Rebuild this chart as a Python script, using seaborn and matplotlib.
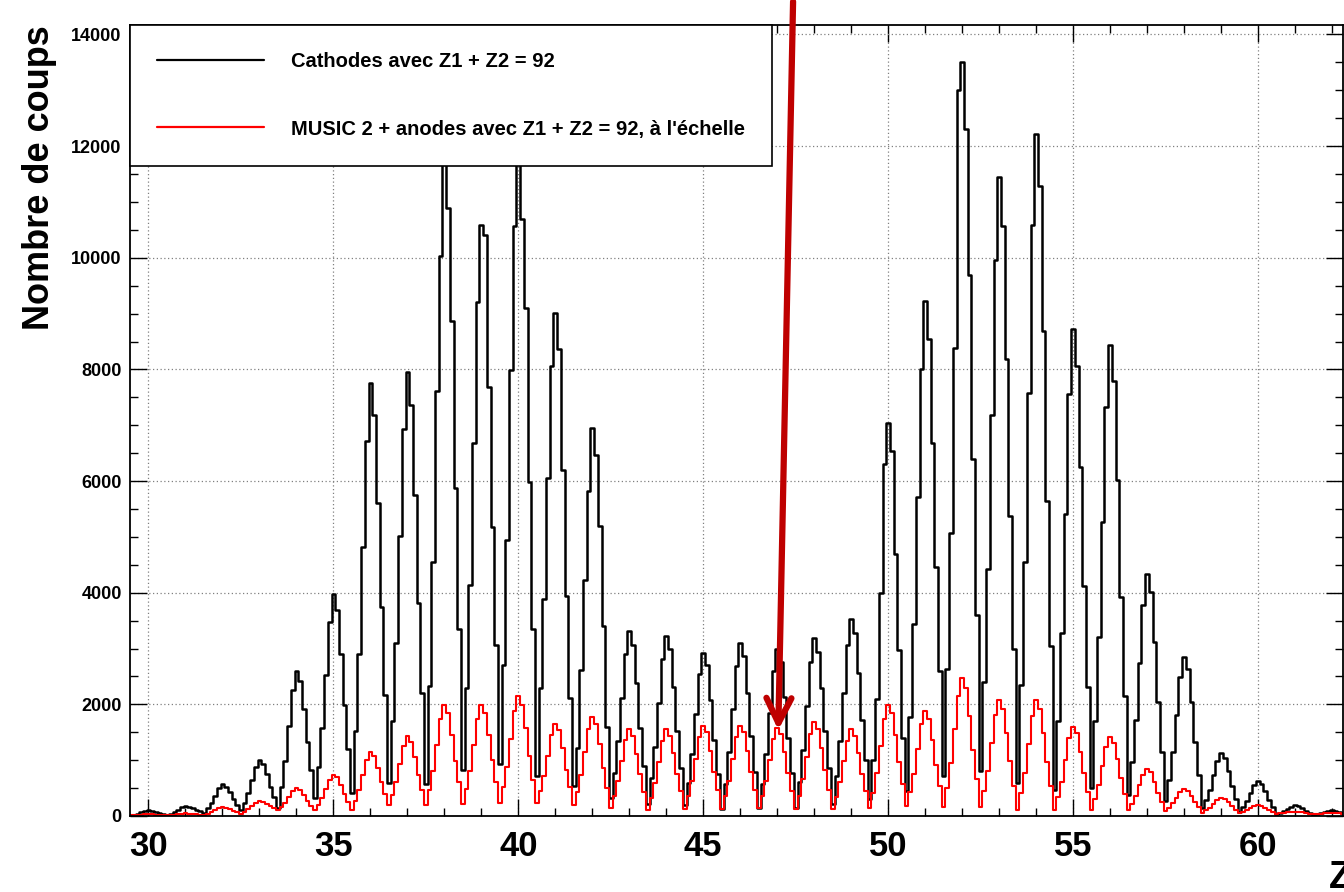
import numpy as np
import pandas as pd
import matplotlib
matplotlib.use("Agg")
import matplotlib.pyplot as plt
import seaborn as sns
from matplotlib.lines import Line2D
from matplotlib.ticker import MultipleLocator

# --- data: one row of 10 bins (width 0.1) per charge Z,
# bin centres going from Z-0.5 to Z+0.4
z_values = list(range(30, 63))

cathodes_rows = [
    [10, 24, 41, 64, 87, 100, 94, 76, 55, 38],                      # 30
    [20, 43, 73, 113, 153, 175, 166, 140, 111, 85],                 # 31
    [60, 136, 232, 363, 494, 565, 528, 426, 305, 202],              # 32
    [100, 235, 406, 640, 874, 1000, 932, 745, 524, 337],            # 33
    [150, 518, 983, 1620, 2257, 2600, 2418, 1919, 1329, 829],       # 34
    [330, 878, 1571, 2520, 3469, 3980, 3695, 2911, 1984, 1199],     # 35
    [415, 1515, 2909, 4816, 6723, 7750, 7177, 5602, 3740, 2165],    # 36
    [590, 1696, 3096, 5012, 6928, 7960, 7369, 5743, 3822, 2196],    # 37
    [570, 2330, 4558, 7608, 10030, 12300, 10900, 8859, 5877, 3353], # 38
    [830, 2293, 4145, 6680, 9215, 10580, 10400, 7688, 5182, 3061],  # 39
    [940, 2704, 4938, 7996, 10570, 12700, 10690, 9106, 5991, 3356], # 40
    [720, 2300, 3890, 6050, 8070, 9010, 8370, 6200, 3940, 2110],    # 41
    [530, 1210, 2620, 4220, 5820, 6950, 6460, 5200, 3410, 1600],    # 42
    [315, 766, 1337, 2118, 2899, 3320, 3072, 2390, 1584, 902],      # 43
    [220, 672, 1243, 2026, 2809, 3230, 2987, 2318, 1528, 859],      # 44
    [190, 600, 1118, 1828, 2538, 2920, 2697, 2083, 1358, 744],      # 45
    [130, 576, 1140, 1912, 2684, 3100, 2863, 2212, 1442, 791],      # 46
    [140, 568, 1109, 1850, 2591, 2990, 2763, 2138, 1400, 775],      # 47
    [150, 605, 1180, 1968, 2756, 3180, 2942, 2289, 1517, 863],      # 48
    [210, 708, 1339, 2202, 3065, 3530, 3272, 2561, 1721, 1011],     # 49
    [300, 1000, 2100, 4000, 6300, 7040, 6530, 4690, 2980, 1400],    # 50
    [450, 1767, 3435, 5718, 8001, 9230, 8549, 6677, 4464, 2592],    # 51
    [720, 2637, 5065, 8388, 13000, 13500, 12300, 9693, 6394, 3602], # 52
    [810, 2405, 4424, 7188, 9952, 11440, 10573, 8188, 5370, 2985],  # 53
    [600, 2343, 4551, 7572, 10593, 12220, 11280, 8694, 5637, 3051], # 54
    [465, 1703, 3272, 5418, 7564, 8720, 8063, 6257, 4122, 2316],    # 55
    [510, 1700, 3206, 5268, 7330, 8440, 7795, 6021, 3924, 2149],    # 56
    [375, 968, 1720, 2748, 3776, 4330, 4004, 3109, 2051, 1155],     # 57
    [260, 649, 1141, 1814, 2487, 2850, 2633, 2037, 1332, 736],      # 58
    [140, 287, 473, 728, 983, 1120, 1037, 808, 538, 309],           # 59
    [80, 163, 267, 410, 553, 630, 582, 450, 294, 162],              # 60
    [30, 54, 84, 126, 168, 190, 177, 141, 98, 61],                  # 61
    [25, 36, 51, 70, 90, 100, 93, 73, 50, 30],                      # 62
]

music_rows = [
    [10, 13, 17, 22, 27, 30, 29, 26, 22, 18],                   # 30
    [15, 20, 25, 33, 41, 45, 43, 38, 31, 26],                   # 31
    [20, 41, 68, 104, 140, 160, 150, 124, 93, 66],              # 32
    [40, 75, 118, 178, 238, 270, 256, 219, 175, 137],           # 33
    [100, 160, 236, 340, 444, 500, 468, 380, 276, 188],         # 34
    [100, 196, 318, 484, 650, 740, 690, 553, 390, 253],         # 35
    [115, 270, 467, 736, 1005, 1150, 1073, 862, 612, 401],      # 36
    [190, 376, 612, 934, 1256, 1430, 1331, 1058, 736, 463],     # 37
    [190, 459, 800, 1267, 1734, 1985, 1843, 1453, 991, 601],    # 38
    [210, 476, 814, 1275, 1737, 1985, 1844, 1457, 999, 612],    # 39
    [225, 514, 880, 1380, 1881, 2150, 1996, 1573, 1072, 649],   # 40
    [225, 439, 710, 1080, 1451, 1650, 1533, 1212, 832, 511],    # 41
    [190, 429, 731, 1144, 1557, 1780, 1649, 1288, 862, 501],    # 42
    [140, 352, 619, 986, 1353, 1550, 1435, 1118, 744, 427],     # 43
    [110, 326, 600, 974, 1348, 1550, 1436, 1124, 755, 442],     # 44
    [130, 353, 635, 1021, 1407, 1615, 1496, 1170, 783, 457],    # 45
    [130, 353, 635, 1021, 1407, 1615, 1497, 1173, 789, 465],    # 46
    [140, 356, 630, 1004, 1378, 1580, 1463, 1142, 762, 441],    # 47
    [120, 356, 654, 1062, 1470, 1690, 1565, 1222, 816, 473],    # 48
    [130, 343, 613, 982, 1351, 1550, 1437, 1127, 760, 450],     # 49
    [140, 418, 769, 1250, 1731, 1990, 1845, 1447, 976, 578],    # 50
    [180, 435, 758, 1200, 1642, 1880, 1742, 1364, 917, 538],    # 51
    [160, 508, 949, 1552, 2155, 2480, 2294, 1784, 1181, 670],   # 52
    [160, 448, 813, 1312, 1811, 2080, 1922, 1489, 977, 543],    # 53
    [110, 404, 776, 1286, 1796, 2070, 1913, 1482, 972, 541],    # 54
    [110, 334, 617, 1004, 1391, 1600, 1481, 1153, 766, 438],    # 55
    [110, 307, 555, 896, 1237, 1420, 1315, 1027, 686, 398],     # 56
    [110, 220, 358, 548, 738, 840, 780, 615, 420, 255],         # 57
    [90, 150, 226, 330, 434, 490, 456, 361, 249, 155],          # 58
    [60, 101, 152, 222, 292, 330, 308, 246, 173, 112],          # 59
    [50, 73, 101, 140, 179, 200, 187, 152, 110, 75],            # 60
    [40, 46, 54, 64, 74, 80, 76, 65, 52, 41],                   # 61
    [30, 35, 40, 48, 56, 60, 57, 48, 38, 29],                   # 62
]

legend_labels = ["Cathodes avec Z1 + Z2 = 92",
                 "MUSIC 2 + anodes avec Z1 + Z2 = 92, à l'échelle"]

# --- build bins
n_bins = 10 * len(z_values)
edges = np.round(z_values[0] - 0.55 + 0.1 * np.arange(n_bins + 1), 2)
centres = edges[:-1] + 0.05
df = pd.DataFrame({
    "Z": centres,
    "cathodes": np.concatenate(cathodes_rows),
    "music": np.concatenate(music_rows),
})
bin_list = edges.tolist()

# --- style
sns.set_style("ticks")
plt.rcParams["font.family"] = ["Liberation Sans", "DejaVu Sans"]
plt.rcParams["font.weight"] = "bold"
plt.rcParams["text.color"] = "black"
plt.rcParams["axes.labelcolor"] = "black"
plt.rcParams["xtick.color"] = "black"
plt.rcParams["ytick.color"] = "black"

fig, ax = plt.subplots(figsize=(13.44, 8.92), dpi=100)
fig.subplots_adjust(left=130 / 1344, right=1343 / 1344,
                    bottom=1 - 816 / 892, top=1 - 25 / 892)

sns.histplot(data=df, x="Z", weights="cathodes", bins=bin_list, element="step",
             fill=False, color="black", linewidth=1.8, ax=ax)
sns.histplot(data=df, x="Z", weights="music", bins=bin_list, element="step",
             fill=False, color="red", linewidth=1.5, ax=ax)

ax.set_xlim(29.5, 62.3)
ax.set_ylim(0, 14170)
ax.xaxis.set_major_locator(MultipleLocator(5))
ax.xaxis.set_minor_locator(MultipleLocator(1))
ax.yaxis.set_major_locator(MultipleLocator(2000))
ax.yaxis.set_minor_locator(MultipleLocator(500))
ax.grid(True, which="major", linestyle=(0, (1, 2)), color="gray", linewidth=0.9)
ax.set_axisbelow(True)
ax.tick_params(which="both", direction="in", top=True, right=True, width=1)
ax.tick_params(which="major", length=12)
ax.tick_params(which="minor", length=6)
ax.tick_params(axis="x", labelsize=25, pad=10)
ax.tick_params(axis="y", labelsize=13, pad=6)
for sp in ax.spines.values():
    sp.set_linewidth(1.3)
    sp.set_color("black")

ax.set_ylabel("Nombre de coups", fontsize=26, fontweight="bold", loc="top")
ax.yaxis.set_label_coords(-0.06, 1.0)
ax.set_xlabel("Z", fontsize=27, fontweight="bold")
ax.xaxis.set_label_coords(0.988, -0.055)
ax.xaxis.label.set_horizontalalignment("left")

handles = [Line2D([0], [0], color="black", lw=1.6),
           Line2D([0], [0], color="red", lw=1.6)]
leg = ax.legend(handles, legend_labels, loc="upper left", bbox_to_anchor=(0, 1),
                borderaxespad=0, fancybox=False, framealpha=1, edgecolor="black",
                prop={"weight": "bold", "size": 14.5}, handlelength=5.3,
                handletextpad=1.35, labelspacing=2.4, borderpad=1.35)
leg.get_frame().set_linewidth(1.2)

# arrow pointing at Z = 47
ax.annotate("", xy=(47.03, 1540), xytext=(47.43, 14590),
            arrowprops=dict(arrowstyle="->, head_length=1.8, head_width=0.9",
                            color="#bf0000", lw=4.5, shrinkA=0, shrinkB=0),
            annotation_clip=False)

fig.savefig("out.png", dpi=100)
